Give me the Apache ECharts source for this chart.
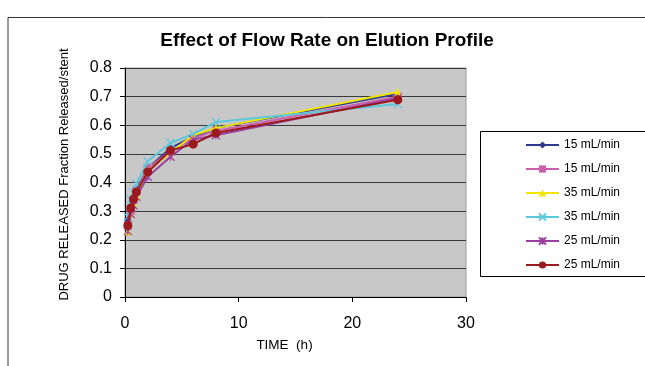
<!DOCTYPE html>
<html>
<head>
<meta charset="utf-8">
<script src="https://cdn.jsdelivr.net/npm/echarts@6/dist/echarts.min.js"></script>
<style>html,body{margin:0;padding:0;background:#fff;}#c{width:645px;height:366px;}</style>
</head>
<body>
<div id="c"></div>
<script>
const times = [0.25, 0.5, 0.75, 1, 2, 4, 6, 8, 24];
const seriesNames = ['15 mL/min', '15 mL/min', '35 mL/min', '35 mL/min', '25 mL/min', '25 mL/min'];
const s15a = [0.27, 0.31, 0.35, 0.375, 0.45, 0.52, 0.56, 0.59, 0.71];
const s15b = [0.25, 0.30, 0.34, 0.37, 0.45, 0.51, 0.555, 0.58, 0.70];
const s35a = [0.23, 0.29, 0.33, 0.355, 0.44, 0.505, 0.565, 0.59, 0.716];
const s35b = [0.28, 0.34, 0.364, 0.396, 0.474, 0.538, 0.57, 0.611, 0.674];
const s25a = [0.23, 0.29, 0.32, 0.35, 0.42, 0.49, 0.55, 0.565, 0.695];
const s25b = [0.25, 0.311, 0.342, 0.367, 0.437, 0.512, 0.534, 0.573, 0.689];
const xTicks = [0, 10, 20, 30];
const yTicks = [0, 0.1, 0.2, 0.3, 0.4, 0.5, 0.6, 0.7, 0.8];

const allValues = [s15a, s15b, s35a, s35b, s25a, s25b];
const colors = ['#2e3a8c', '#cc5fac', '#f2e600', '#5bc8dc', '#9c3fa0', '#9a1a1e'];
const symbols = ['diamond', 'rect', 'triangle',
  'path://M0,0L10,10M10,0L0,10',
  'path://M0,0L10,10M10,0L0,10M5,0L5,10',
  'circle'];
const sizes = [7, 8, 8, 8, 8, 9];
const font = 'Liberation Sans, Arial, sans-serif';

const series = allValues.map((vals, i) => {
  const isPath = symbols[i].startsWith('path');
  return {
    name: seriesNames[i] + '\u200b'.repeat(i),
    type: 'line',
    data: times.map((t, j) => [t, vals[j]]),
    symbol: symbols[i],
    symbolSize: sizes[i],
    showAllSymbol: true,
    lineStyle: { color: colors[i], width: 2 },
    itemStyle: isPath ? { color: colors[i], borderColor: colors[i], borderWidth: 1.2 } : { color: colors[i], borderWidth: 0 },
    emphasis: { disabled: true },
    z: 3 + i
  };
});

const chart = echarts.init(document.getElementById('c'), null, { renderer: 'canvas' });
chart.setOption({
  animation: false,
  backgroundColor: '#ffffff',
  title: {
    text: 'Effect of Flow Rate on Elution Profile',
    left: 322, top: 26, textAlign: 'center',
    textStyle: { fontFamily: font, fontSize: 19, fontWeight: 'bold', color: '#000' }
  },
  graphic: [
    { type: 'polyline', shape: { points: [[8, 366], [8, 17.5], [645, 17.5]] }, style: { stroke: '#333', lineWidth: 1, fill: null }, silent: true },
    { type: 'rect', shape: { x: 480.5, y: 131.5, width: 170, height: 145 }, style: { stroke: '#000', lineWidth: 1, fill: '#fff' }, z: 0, silent: true }
  ],
  legend: {
    orient: 'vertical',
    left: 520, top: 134,
    itemWidth: 33, itemHeight: 9,
    itemGap: 12,
    formatter: n => n.replace(/\u200b/g, ''),
    textStyle: { fontFamily: font, fontSize: 12, color: '#000' },
    data: series.map(s => s.name),
    z: 10
  },
  grid: {
    left: 125, top: 68, width: 341, height: 229,
    show: true, backgroundColor: '#c8c8c8', borderColor: '#999', borderWidth: 1
  },
  xAxis: {
    type: 'value', min: xTicks[0], max: xTicks[xTicks.length - 1], interval: 10,
    name: 'TIME  (h)', nameLocation: 'middle', nameGap: 41,
    nameTextStyle: { fontFamily: font, fontSize: 13.5, color: '#000', padding: [0, 22, 0, 0] },
    axisLine: { show: true, lineStyle: { color: '#000', width: 1 } },
    axisTick: { show: true, inside: false, length: 5, lineStyle: { color: '#000' } },
    axisLabel: { fontFamily: font, fontSize: 16, color: '#000', margin: 19 },
    splitLine: { show: false }
  },
  yAxis: {
    type: 'value', min: yTicks[0], max: yTicks[yTicks.length - 1], interval: 0.1,
    name: 'DRUG RELEASED Fraction Released/stent', nameLocation: 'middle', nameGap: 54,
    nameTextStyle: { fontFamily: font, fontSize: 13, color: '#000', padding: [0, 0, 0, 16] },
    axisLine: { show: true, lineStyle: { color: '#000', width: 1 } },
    axisTick: { show: true, inside: false, length: 5, lineStyle: { color: '#000' } },
    axisLabel: { fontFamily: font, fontSize: 16, color: '#000', margin: 13, formatter: v => String(Math.round(v * 10) / 10) },
    splitLine: { show: true, lineStyle: { color: '#3a3a3a', width: 1 } }
  },
  series: series
});
</script>
</body>
</html>
